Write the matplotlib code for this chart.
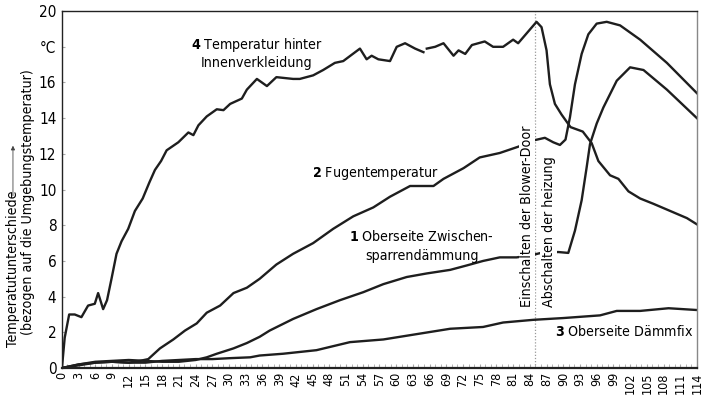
import numpy as np
import matplotlib
matplotlib.use('Agg')
import matplotlib.pyplot as plt
from matplotlib import font_manager as fm

# schmale Schrift suchen, sonst Liberation Sans
fonts = fm.fontManager.ttflist
if any(f.name == 'Liberation Sans Narrow' for f in fonts):
    plt.rcParams['font.family'] = ['Liberation Sans Narrow', 'DejaVu Sans']
elif any(f.name == 'DejaVu Sans' and f.stretch == 'condensed' for f in fonts):
    plt.rcParams['font.family'] = ['DejaVu Sans']
    plt.rcParams['font.stretch'] = 'condensed'
else:
    plt.rcParams['font.family'] = ['Liberation Sans', 'DejaVu Sans']
plt.rcParams['mathtext.fontset'] = 'custom'
plt.rcParams['mathtext.bf'] = plt.rcParams['font.family'][0] + ':bold'

# Kurve 4: Temperatur hinter Innenverkleidung (nan = Lücke in der Kurve)
x4 = [0, 0.5, 1.3, 2.3, 3.5, 4.7, 5.9, 6.5, 7.4, 8.1, 8.9, 9.8, 10.7, 11.9, 13.1,
      14.5, 15.7, 16.7, 17.8, 18.8, 20.9, 22.7, 23.6, 24.5, 26.0, 27.8, 29.0, 30.2,
      32.3, 33.2, 35.0, 36.8, 38.5, 41.5, 42.7, 45.1, 46.9, 49.0, 50.5, 53.5, 54.7,
      55.6, 56.8, 58.9, 60.1, 61.6, 63.4, 64.9, 65.2, 65.5, 67.0, 68.5, 70.3, 71.2,
      72.4, 73.6, 75.9, 77.4, 79.2, 81.0, 81.9, 85.2, 86.1, 87.0, 87.6, 88.5, 89.7,
      91.3, 93.5, 95.1, 96.3, 98.4, 99.9, 101.7, 103.8, 106.2, 109.2, 112.2, 114]
y4 = [0, 1.7, 3.0, 3.0, 2.85, 3.5, 3.6, 4.2, 3.3, 3.8, 5.0, 6.4, 7.1, 7.8, 8.8,
      9.5, 10.4, 11.1, 11.6, 12.2, 12.65, 13.2, 13.05, 13.6, 14.1, 14.5, 14.45, 14.8,
      15.1, 15.6, 16.2, 15.8, 16.3, 16.2, 16.2, 16.4, 16.7, 17.1, 17.2, 17.9, 17.3,
      17.5, 17.3, 17.2, 18.0, 18.2, 17.9, 17.7, np.nan, 17.9, 18.0, 18.2, 17.5, 17.8,
      17.6, 18.1, 18.3, 18.0, 18.0, 18.4, 18.2, 19.4, 19.1, 17.8, 15.9, 14.8, 14.2,
      13.5, 13.25, 12.6, 11.6, 10.8, 10.6, 9.9, 9.5, 9.2, 8.8, 8.4, 8.05]

# Kurve 2: Fugentemperatur
x2 = [0, 3, 6, 9, 12, 14, 15.5, 17.6, 20.0, 22.1, 24.2, 26.0, 28.4, 30.8, 33.2,
      35.5, 38.5, 41.5, 45.1, 48.7, 52.3, 55.9, 58.9, 62.5, 66.7, 68.5, 72.1, 75.0,
      78.6, 81.9, 84.6, 86.7, 88.2, 89.4, 90.4, 91.2, 92.1, 93.3, 94.5, 96.0, 97.8,
      100.2, 103.8, 108.6, 114]
y2 = [0, 0.2, 0.3, 0.35, 0.3, 0.4, 0.5, 1.1, 1.6, 2.1, 2.5, 3.1, 3.5, 4.2, 4.5,
      5.0, 5.8, 6.4, 7.0, 7.8, 8.5, 9.0, 9.6, 10.2, 10.2, 10.6, 11.2, 11.8,
      12.05, 12.4, 12.75, 12.9, 12.65, 12.5, 12.8, 14.05, 15.9, 17.6, 18.7, 19.3, 19.4,
      19.2, 18.4, 17.1, 15.4]

# Kurve 1: Oberseite Zwischensparrendämmung
x1 = [0, 3, 6, 9, 12, 15, 18, 21, 24, 26, 27.8, 30.8, 33.2, 35.5, 37.3, 41.5, 45.7,
      49.9, 54.1, 57.7, 61.9, 65.5, 69.7, 72.7, 75.6, 78.6, 81.6, 84, 86, 89.1, 90.9,
      92.1, 93.3, 94.2, 94.8, 96.0, 97.2, 99.6, 102.0, 104.4, 108.6, 114]
y1 = [0, 0.2, 0.35, 0.4, 0.45, 0.4, 0.35, 0.35, 0.45, 0.6, 0.8, 1.1, 1.4, 1.75, 2.1,
      2.75, 3.3, 3.8, 4.25, 4.7, 5.1, 5.3, 5.5, 5.75, 6.0, 6.2, 6.2, 6.3, 6.45, 6.5,
      6.45, 7.7, 9.4, 11.25, 12.55, 13.7, 14.6, 16.1, 16.85, 16.7, 15.6, 14.0]

# Kurve 3: Oberseite Dämmfix
x3 = [0, 3, 6, 9, 12, 15, 18, 21, 24, 27, 30, 33.8, 35.5, 39.7, 45.7, 51.7, 57.7,
      63.7, 69.7, 75.6, 79.2, 84.6, 90.0, 96.6, 99.6, 103.8, 108.9, 114]
y3 = [0, 0.15, 0.3, 0.35, 0.3, 0.3, 0.4, 0.45, 0.5, 0.5, 0.55, 0.6, 0.7, 0.8, 1.0,
      1.45, 1.6, 1.9, 2.2, 2.3, 2.55, 2.7, 2.8, 2.95, 3.2, 3.2, 3.35, 3.25]

x_ticks = list(range(0, 115, 3))
y_ticks = list(range(0, 21, 2))
y_labels = ['0', '2', '4', '6', '8', '10', '12', '14', '16', '°C', '20']
t_blower = 85

fig = plt.figure(figsize=(7.2, 3.97), dpi=100)
ax = fig.add_axes([0.086, 0.073, 0.882, 0.899])

line_col = '#1e1e1e'
for xs, ys in [(x3, y3), (x1, y1), (x2, y2), (x4, y4)]:
    ax.plot(xs, ys, color=line_col, lw=1.7, solid_joinstyle='round', zorder=2)

ax.axvline(t_blower, color='#999999', lw=0.9, ls=(0, (1, 1.5)), zorder=1)

ax.set_xlim(0, 114)
ax.set_ylim(0, 20)
ax.set_xticks(x_ticks)
ax.set_xticklabels([str(v) for v in x_ticks], rotation=90, fontsize=9)
ax.set_xticks(range(0, 115), minor=True)
ax.set_yticks(y_ticks)
ax.set_yticklabels(y_labels, fontsize=11)
ax.tick_params(axis='x', which='both', direction='in', length=3, color='#aaaaaa', pad=3)
ax.tick_params(axis='y', direction='in', length=2, color='#aaaaaa', pad=4)

for side in ['left', 'bottom', 'top']:
    ax.spines[side].set_color('#222222')
ax.spines['bottom'].set_linewidth(1.6)
ax.spines['left'].set_linewidth(1.0)
ax.spines['top'].set_linewidth(1.0)
ax.spines['right'].set_color('#888888')
ax.spines['right'].set_linewidth(1.0)

fs = 10.2
ax.text(35.0, 18.6, r'$\mathbf{4}$ Temperatur hinter' + '\nInnenverkleidung', ha='center',
        va='top', fontsize=fs, linespacing=1.15)
ax.text(56.2, 10.9, r'$\mathbf{2}$ Fugentemperatur', ha='center', va='center', fontsize=fs)
ax.text(64.5, 7.35, r'$\mathbf{1}$ Oberseite Zwischen-', ha='center', va='center', fontsize=fs)
ax.text(64.7, 6.3, 'sparrendämmung', ha='center', va='center', fontsize=fs)
ax.text(100.9, 2.07, r'$\mathbf{3}$ Oberseite Dämmfix', ha='center', va='center', fontsize=fs)

bbox = dict(facecolor='white', edgecolor='none', pad=1.0)
ax.text(83.5, 3.4, 'Einschalten der Blower-Door', rotation=90, ha='center', va='bottom',
        fontsize=fs, bbox=bbox, zorder=3)
ax.text(87.4, 3.4, 'Abschalten der heizung', rotation=90, ha='center', va='bottom',
        fontsize=fs, bbox=bbox, zorder=3)

fig.text(0.018, 0.125, 'Temperatutunterschiede', rotation=90, ha='center', va='bottom',
         fontsize=fs)
ax.annotate('', xy=(0.018, 0.64), xytext=(0.018, 0.5), xycoords='figure fraction',
            arrowprops=dict(arrowstyle='-|>', color='#444444', lw=0.6,
                            mutation_scale=6))
fig.text(0.039, 0.49, '(bezogen auf die Umgebungstemperatur)', rotation=90,
         ha='center', va='center', fontsize=fs)

fig.savefig('out.png', dpi=100)
